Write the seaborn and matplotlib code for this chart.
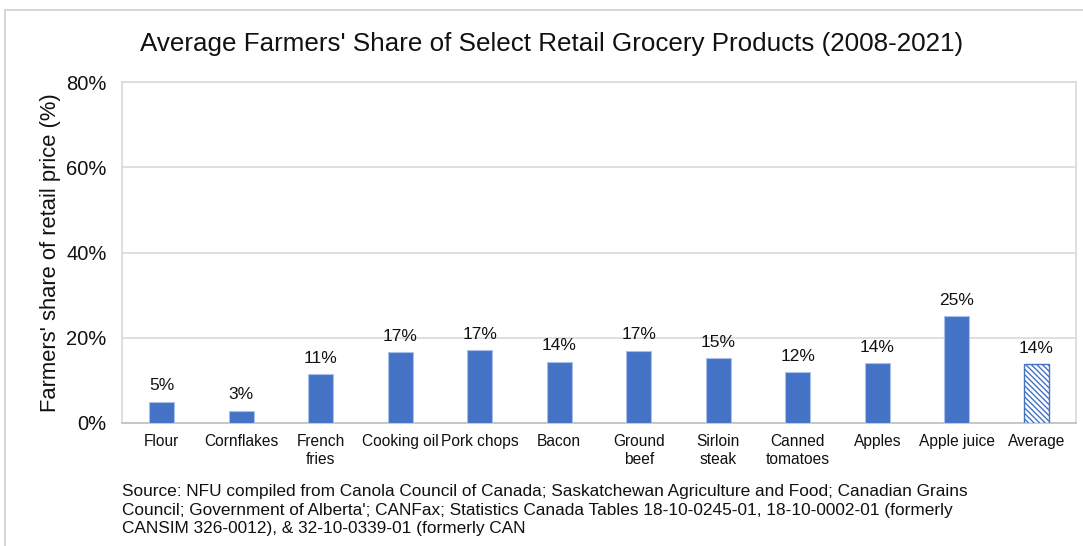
import matplotlib
matplotlib.use("Agg")
import matplotlib.pyplot as plt
import seaborn as sns
import pandas as pd
from matplotlib.patches import Rectangle

categories = ["Flour", "Cornflakes", "French\nfries", "Cooking oil", "Pork chops", "Bacon",
              "Ground\nbeef", "Sirloin\nsteak", "Canned\ntomatoes", "Apples", "Apple juice", "Average"]
shares = [5.0, 2.9, 11.5, 16.6, 17.1, 14.4, 17.0, 15.2, 12.0, 14.0, 25.0, 13.8]
bar_labels = ["5%", "3%", "11%", "17%", "17%", "14%", "17%", "15%", "12%", "14%", "25%", "14%"]
yticks = [0, 20, 40, 60, 80]
ytick_labels = ["0%", "20%", "40%", "60%", "80%"]

title = "Average Farmers' Share of Select Retail Grocery Products (2008-2021)"
ylabel = "Farmers' share of retail price (%)"
source = ("Source: NFU compiled from Canola Council of Canada; Saskatchewan Agriculture and Food; Canadian Grains\n"
          "Council; Government of Alberta'; CANFax; Statistics Canada Tables 18-10-0245-01, 18-10-0002-01 (formerly\n"
          "CANSIM 326-0012), & 32-10-0339-01 (formerly CAN")

sns.set_theme(style="white")
plt.rcParams['font.family'] = ['Liberation Sans', 'DejaVu Sans']
plt.rcParams['hatch.color'] = '#4472C4'
plt.rcParams['hatch.linewidth'] = 1.0

BLUE = "#4472C4"
GRID = "#D9D9D9"
TXT = "#111111"

df = pd.DataFrame({"cat": categories, "val": shares})

fig = plt.figure(figsize=(10.83, 5.46), dpi=100)
ax = fig.add_axes([122/1083, 1-423/546, (1076-122)/1083, (423-82)/546])

sns.barplot(data=df, x="cat", y="val", color=BLUE, saturation=1, width=0.31,
            edgecolor="#A9C0EA", linewidth=0.8, ax=ax, zorder=3)

patches = ax.patches
last = patches[-1]
last.set_facecolor("white")
last.set_hatch("\\\\\\\\\\\\")
last.set_edgecolor(BLUE)
last.set_linewidth(1.0)

for p, lab in zip(patches, bar_labels):
    ax.annotate(lab, (p.get_x() + p.get_width()/2, p.get_height()),
                xytext=(0, 6), textcoords="offset points", ha="center", va="bottom",
                fontsize=12.5, color=TXT)

ax.set_ylim(0, 80)
ax.set_xlim(-0.5, len(categories) - 0.5)
ax.set_yticks(yticks)
ax.set_yticklabels(ytick_labels, fontsize=14.5, color=TXT)
ax.set_xticks(range(len(categories)))
ax.set_xticklabels(categories, fontsize=11.2, color=TXT, linespacing=1.2)
ax.tick_params(axis="y", length=0, pad=11)
ax.tick_params(axis="x", length=0, pad=8)
ax.set_xlabel("")
ax.set_ylabel(ylabel, fontsize=15.8, color=TXT, labelpad=4)
ax.yaxis.grid(True, color=GRID, linewidth=1.2, zorder=0)
ax.set_axisbelow(True)
for s in ["left", "right", "top"]:
    ax.spines[s].set_color(GRID)
    ax.spines[s].set_linewidth(1.2)
ax.spines["bottom"].set_color("#BFBFBF")
ax.spines["bottom"].set_linewidth(1.2)

fig.text(552/1083, 1-44/546, title, ha="center", va="center", fontsize=18.7, color=TXT)
fig.text(122/1083, 1-484/546, source, ha="left", va="top", fontsize=12.4, color=TXT, linespacing=1.3)

fig.patches.append(Rectangle((5/1083, -0.05), 1.1, 1-10/546 + 0.05, transform=fig.transFigure,
                             fill=False, edgecolor="#D0D0D0", linewidth=1.2))

fig.savefig("out.png", dpi=100)
